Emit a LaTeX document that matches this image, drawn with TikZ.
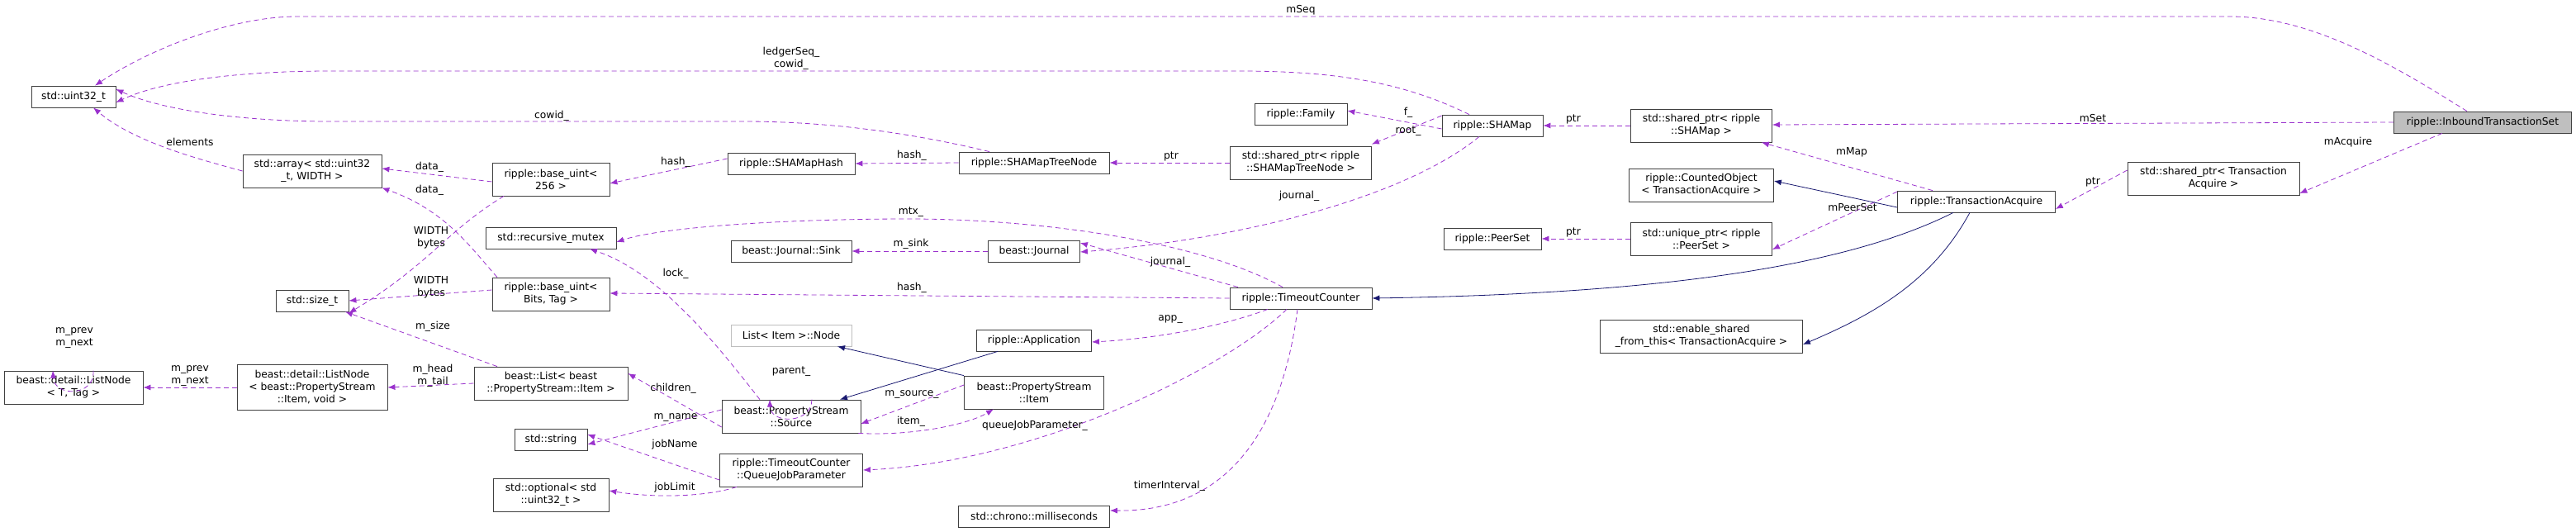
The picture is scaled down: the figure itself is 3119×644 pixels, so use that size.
\documentclass[tikz,border=0pt]{standalone}
\usepackage{fontspec}
\setmainfont{DejaVu Sans}
\usetikzlibrary{arrows.meta,positioning}
\definecolor{member}{HTML}{9A32CD}
\definecolor{inherit}{HTML}{191970}
\definecolor{boxline}{HTML}{404040}
\tikzset{>={Latex[length=9pt,width=7pt]}}
\tikzset{
  cls/.style={draw=boxline, thick, align=center, inner sep=1pt, minimum height=26pt},
  cls2/.style={cls, minimum height=40pt},
  mem/.style={->, member, dashed, dash pattern=on 6pt off 4pt, thick},
  inh/.style={->, inherit, thick},
  lbl/.style={inner sep=0pt, align=center},
}
\begin{document}
\begin{tikzpicture}[x=1pt, y=-1pt, font=\fontsize{12.3}{15}\selectfont]
\useasboundingbox (0,0) rectangle (3119,644);

% classes
\node[cls, minimum width=102pt] (u32) at (89,117) {std::uint32\_t};
\node[cls2, minimum width=168pt] (arr) at (378,207) {std::array< std::uint32\\\_t, WIDTH >};
\node[cls2, minimum width=142pt] (b256) at (667,217) {ripple::base\_uint<\\256 >};
\node[cls, minimum width=158pt] (rmtx) at (667,288) {std::recursive\_mutex};
\node[cls, minimum width=88pt] (szt) at (378,364) {std::size\_t};
\node[cls2, minimum width=142pt] (bbits) at (667,356) {ripple::base\_uint<\\Bits, Tag >};
\node[cls2, minimum width=168pt] (lnT) at (89,469) {beast::detail::ListNode\\< T, Tag >};
\node[cls, minimum width=182pt, minimum height=55pt] (lnB) at (378,469) {beast::detail::ListNode\\< beast::PropertyStream\\::Item, void >};
\node[cls2, minimum width=186pt] (blist) at (667,464) {beast::List< beast\\::PropertyStream::Item >};
\node[cls, minimum width=88pt] (str) at (667,532) {std::string};
\node[cls2, minimum width=140pt] (opt) at (667,599) {std::optional< std\\::uint32\_t >};

\node[cls, minimum width=154pt] (hsh) at (958,198) {ripple::SHAMapHash};
\node[cls, minimum width=146pt] (sink) at (958,304) {beast::Journal::Sink};
\node[cls, minimum width=146pt, draw=black!25] (lnode) at (958,406) {List< Item >::Node};
\node[cls2, minimum width=168pt] (src) at (958,504) {beast::PropertyStream\\::Source};
\node[cls2, minimum width=173pt] (qjp) at (958,569) {ripple::TimeoutCounter\\::QueueJobParameter};

\node[cls, minimum width=182pt] (tnode) at (1252,197) {ripple::SHAMapTreeNode};
\node[cls, minimum width=111pt] (jrnl) at (1252,304) {beast::Journal};
\node[cls, minimum width=139pt] (app) at (1252,412) {ripple::Application};
\node[cls2, minimum width=169pt] (item) at (1252,475) {beast::PropertyStream\\::Item};
\node[cls, minimum width=183pt] (msec) at (1252,625) {std::chrono::milliseconds};

\node[cls, minimum width=112pt] (fam) at (1575,138) {ripple::Family};
\node[cls2, minimum width=171pt] (sptn) at (1575,197) {std::shared\_ptr< ripple\\::SHAMapTreeNode >};
\node[cls, minimum width=172pt] (toc) at (1575,361) {ripple::TimeoutCounter};

\node[cls, minimum width=122pt] (smap) at (1807,152) {ripple::SHAMap};
\node[cls, minimum width=118pt] (pset) at (1807,289) {ripple::PeerSet};

\node[cls2, minimum width=171pt] (spsm) at (2060,152) {std::shared\_ptr< ripple\\::SHAMap >};
\node[cls2, minimum width=175pt] (cobj) at (2060,224) {ripple::CountedObject\\< TransactionAcquire >};
\node[cls2, minimum width=171pt] (uptr) at (2060,289) {std::unique\_ptr< ripple\\::PeerSet >};
\node[cls2, minimum width=245pt] (esft) at (2060,407) {std::enable\_shared\\\_from\_this< TransactionAcquire >};

\node[cls, minimum width=191pt] (tacq) at (2393,244) {ripple::TransactionAcquire};
\node[cls2, minimum width=208pt] (spta) at (2680,216) {std::shared\_ptr< Transaction\\Acquire >};
\node[cls, minimum width=215pt, fill=black!25] (inb) at (3006,148) {ripple::InboundTransactionSet};

% members
\draw[mem] ([xshift=-19pt]inb.north) .. controls (2900,80) and (2800,20) .. (2700,20) -- (360,20) .. controls (280,20) and (180,60) .. ([xshift=26pt]u32.north);
\draw[mem] (inb.west) -- ([yshift=1pt]spsm.east);
\draw[mem] ([xshift=-49pt]inb.south) -- ([yshift=-18pt]spta.east);
\draw[mem] ([yshift=10pt]spta.west) -- ([yshift=-9pt]tacq.east);
\draw[mem] ([xshift=-53pt]tacq.north) -- ([xshift=-13pt]spsm.south east);
\draw[mem] ([yshift=12pt]tacq.west) -- ([yshift=-13pt]uptr.east);
\draw[mem] (spsm.west) -- (smap.east);
\draw[mem] ([yshift=-4pt]smap.west) -- ([yshift=4pt]fam.east);
\draw[mem] ([yshift=12pt]smap.west) -- ([yshift=2pt]sptn.north east);
\draw[mem] ([xshift=-16pt]smap.south) .. controls (1700,240) and (1500,290) .. ([yshift=-1pt]jrnl.east);
\draw[mem] ([xshift=-28pt]smap.north) .. controls (1700,100) and (1620,86) .. (1500,86) -- (400,86) .. controls (300,86) and (200,96) .. ([yshift=-7pt]u32.east);
\draw[mem] (sptn.west) -- (tnode.east);
\draw[mem] (tnode.west) -- (hsh.east);
\draw[mem] ([xshift=-54pt]tnode.north) .. controls (1100,160) and (1000,147) .. (900,147) -- (400,147) .. controls (300,147) and (200,135) .. ([yshift=9pt]u32.east);
\draw[mem] ([yshift=6pt]hsh.west) -- ([yshift=-5pt]b256.east);
\draw[mem] ([yshift=-3pt]b256.west) -- ([yshift=3pt]arr.east);
\draw[mem] ([xshift=-57pt]b256.south) .. controls (540,280) and (520,320) .. ([yshift=-15pt]szt.east);
\draw[mem] ([xshift=-65pt]bbits.north) .. controls (570,300) and (540,255) .. (arr.south east);
\draw[mem] ([yshift=5pt]bbits.west) -- (szt.east);
\draw[mem] (arr.west) .. controls (230,190) and (160,170) .. ([xshift=24pt]u32.south);
\draw[mem] (uptr.west) -- (pset.east);
\draw[mem] ([xshift=-22pt]toc.north) .. controls (1450,290) and (1250,265) .. (1100,265) .. controls (950,265) and (800,275) .. ([yshift=-5pt]rmtx.east);
\draw[mem] ([xshift=-76pt]toc.north) -- ([yshift=10pt]jrnl.east);
\draw[mem] (toc.west) -- ([yshift=1pt]bbits.east);
\draw[mem] ([xshift=-40pt]toc.south) .. controls (1480,395) and (1400,410) .. ([yshift=-2pt]app.east);
\draw[mem] ([xshift=-17pt]toc.south) .. controls (1480,450) and (1250,560) .. (qjp.east);
\draw[mem] ([xshift=-4pt]toc.south) .. controls (1555,500) and (1500,620) .. ([yshift=7pt]msec.east);
\draw[mem] (jrnl.west) -- (sink.west -| sink.east);
\draw[mem] ([xshift=-38pt]src.north) .. controls (870,420) and (800,330) .. ([xshift=47pt]rmtx.south);
\draw[mem] ([xshift=25pt]src.north) .. controls ([xshift=25pt,yshift=-30pt]src.north) and ([xshift=-25pt,yshift=-30pt]src.north) .. ([xshift=-26pt]src.north);
\draw[mem] ([yshift=-13pt]src.west) -- ([yshift=12pt]blist.east);
\draw[mem] ([yshift=8pt]src.west) -- ([yshift=-6pt]str.east);
\draw[mem] ([xshift=-3pt]src.south east) .. controls (1100,528) and (1170,515) .. ([xshift=-49pt]item.south);
\draw[mem] ([yshift=9pt]item.west) -- ([yshift=-9pt]src.east);
\draw[mem] ([yshift=-12pt]qjp.west) -- ([yshift=6pt]str.east);
\draw[mem] ([xshift=-66pt]qjp.south) .. controls (860,600) and (800,604) .. ([yshift=5pt]opt.east);
\draw[mem] ([xshift=-65pt]blist.north) -- ([xshift=40pt]szt.south);
\draw[mem] (blist.west) -- (lnB.east);
\draw[mem] (lnB.west) -- (lnT.east);
\draw[mem] ([xshift=24pt]lnT.north) .. controls ([xshift=26pt,yshift=-32pt]lnT.north) and ([xshift=-23pt,yshift=-32pt]lnT.north) .. ([xshift=-25pt]lnT.north);

% inheritance
\draw[inh] ([yshift=-7pt]tacq.west) -- ([yshift=5pt]cobj.east);
\draw[inh] ([xshift=-28pt]tacq.south) .. controls (2250,315) and (2050,355) .. (toc.east);
\draw[inh] ([xshift=-8pt]tacq.south) .. controls (2340,340) and (2270,380) .. ([yshift=-10pt]esft.east);
\draw[inh] ([xshift=-85pt]item.north) -- ([xshift=56pt]lnode.south);
\draw[inh] ([xshift=-44pt]app.south) -- ([xshift=59pt]src.north);

% labels
\node[lbl] (lSeq) at (1575,12) {mSeq};
\node[lbl] (lSet) at (2534,143) {mSet};
\node[lbl] (lAcq) at (2843,172) {mAcquire};
\node[lbl] (lPtrA) at (2534,220) {ptr};
\node[lbl] (lMap) at (2242,184) {mMap};
\node[lbl] (lPeer) at (2243,251) {mPeerSet};
\node[lbl] (lPtrS) at (1905,144) {ptr};
\node[lbl] (lPtrP) at (1905,281) {ptr};
\node[lbl] (lF) at (1705,136) {f\_};
\node[lbl] (lRoot) at (1705,159) {root\_};
\node[lbl] (lJrnS) at (1573,237) {journal\_};
\node[lbl] (lLedg) at (958,71) {ledgerSeq\_\\cowid\_};
\node[lbl] (lCow) at (668,140) {cowid\_};
\node[lbl] (lPtrT) at (1418,189) {ptr};
\node[lbl] (lHshT) at (1104,188) {hash\_};
\node[lbl] (lHshH) at (818,196) {hash\_};
\node[lbl] (lElem) at (230,172) {elements};
\node[lbl] (lData1) at (520,202) {data\_};
\node[lbl] (lData2) at (520,230) {data\_};
\node[lbl] (lWid1) at (522,288) {WIDTH\\bytes};
\node[lbl] (lWid2) at (522,348) {WIDTH\\bytes};
\node[lbl] (lMtx) at (1103,257) {mtx\_};
\node[lbl] (lSink) at (1103,295) {m\_sink};
\node[lbl] (lJrnT) at (1417,317) {journal\_};
\node[lbl] (lLock) at (818,331) {lock\_};
\node[lbl] (lHshC) at (1104,348) {hash\_};
\node[lbl] (lApp) at (1417,387) {app\_};
\node[lbl] (lPar) at (958,450) {parent\_};
\node[lbl] (lChld) at (815,470) {children\_};
\node[lbl] (lSrc) at (1104,478) {m\_source\_};
\node[lbl] (lName) at (818,506) {m\_name};
\node[lbl] (lItem) at (1103,510) {item\_};
\node[lbl] (lQjp) at (1253,515) {queueJobParameter\_};
\node[lbl] (lJobN) at (817,538) {jobName};
\node[lbl] (lJobL) at (817,590) {jobLimit};
\node[lbl] (lTim) at (1416,588) {timerInterval\_};
\node[lbl] (lSize) at (524,395) {m\_size};
\node[lbl] (lHead) at (524,455) {m\_head\\m\_tail};
\node[lbl] (lPrv) at (230,455) {m\_prev\\m\_next};
\node[lbl] (lPrvS) at (90,409) {m\_prev\\m\_next};
\end{tikzpicture}
\end{document}
